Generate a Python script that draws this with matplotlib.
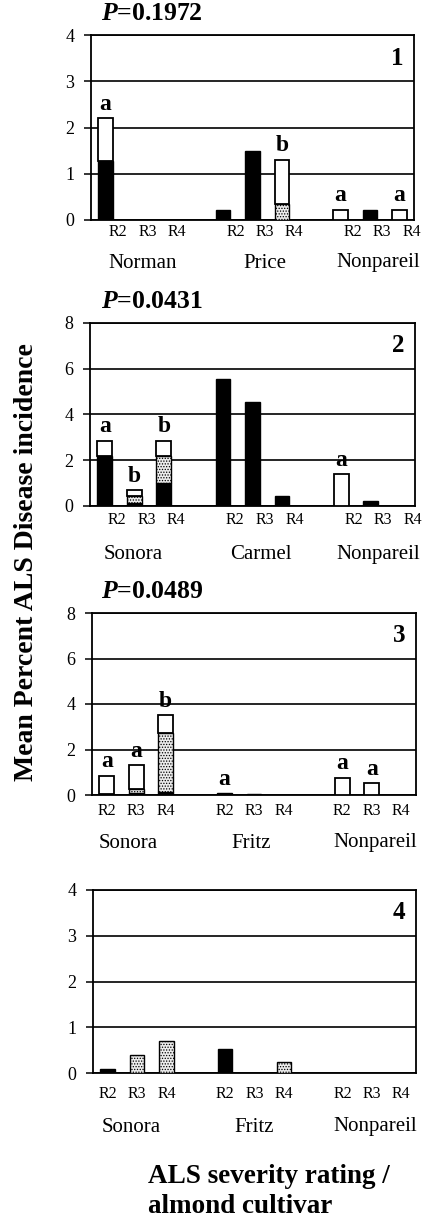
import matplotlib
matplotlib.use("Agg")
import matplotlib.pyplot as plt
import numpy as np

plt.rcParams['font.family'] = ['Liberation Serif', 'DejaVu Serif']
plt.rcParams['mathtext.fontset'] = 'custom'
plt.rcParams['mathtext.it'] = 'Liberation Serif:italic:bold'
plt.rcParams['mathtext.rm'] = 'Liberation Serif:bold'
plt.rcParams['hatch.linewidth'] = 0.6

ratings = ["R2", "R3", "R4"]

# Panel 1
cultivars1 = ["Norman", "Price", "Nonpareil"]
black1 = [1.27, 0, 0, 0.22, 1.50, 0, 0, 0.22, 0]
stip1 = [0, 0, 0, 0, 0, 0.35, 0, 0, 0]
white1 = [0.93, 0, 0, 0, 0, 0.95, 0.22, 0, 0.22]
letters1 = ["a", "", "", "", "", "b", "a", "", "a"]
p1 = "0.1972"

# Panel 2
cultivars2 = ["Sonora", "Carmel", "Nonpareil"]
black2 = [2.19, 0.15, 0.99, 5.56, 4.53, 0.45, 0, 0.20, 0]
stip2 = [0, 0.30, 1.21, 0, 0, 0, 0, 0, 0]
white2 = [0.67, 0.25, 0.66, 0, 0, 0, 1.40, 0, 0]
letters2 = ["a", "b", "b", "", "", "", "a", "", ""]
p2 = "0.0431"

# Panel 3
cultivars3 = ["Sonora", "Fritz", "Nonpareil"]
black3 = [0.04, 0.07, 0.15, 0.07, 0.05, 0, 0, 0, 0]
stip3 = [0, 0.18, 2.56, 0, 0, 0, 0, 0, 0]
white3 = [0.81, 1.05, 0.79, 0, 0, 0, 0.75, 0.51, 0]
letters3 = ["a", "a", "b", "a", "", "", "a", "a", ""]
p3 = "0.0489"

# Panel 4
cultivars4 = ["Sonora", "Fritz", "Nonpareil"]
black4 = [0.09, 0, 0, 0.53, 0, 0, 0, 0, 0]
stip4 = [0, 0.40, 0.69, 0, 0, 0.23, 0, 0, 0]
white4 = [0, 0, 0, 0, 0, 0, 0, 0, 0]
letters4 = ["", "", "", "", "", "", "", "", ""]
p4 = None

W, H = 426, 1220
fig = plt.figure(figsize=(W / 100, H / 100), dpi=100)

slots = np.array([0, 1, 2, 4, 5, 6, 8, 9, 10])

panels = [
    dict(box=(91, 414, 35, 220), ymax=4, step=1, cult=cultivars1, b=black1, s=stip1, w=white1,
         let=letters1, p=p1, num="1", lab_off=0.42, rpad=12, cpad=43,
         cx=[1.26, 5.43, 9.28]),
    dict(box=(90, 415, 323, 506), ymax=8, step=2, cult=cultivars2, b=black2, s=stip2, w=white2,
         let=letters2, p=p2, num="2", lab_off=0.42, rpad=14, cpad=49,
         cx=[0.95, 5.3, 9.25]),
    dict(box=(92, 416, 613, 795), ymax=8, step=2, cult=cultivars3, b=black3, s=stip3, w=white3,
         let=letters3, p=p3, num="3", lab_off=0.0, rpad=16, cpad=48,
         cx=[0.72, 4.9, 9.1]),
    dict(box=(93, 416, 890, 1073), ymax=4, step=1, cult=cultivars4, b=black4, s=stip4, w=white4,
         let=letters4, p=p4, num="4", lab_off=0.0, rpad=21, cpad=54,
         cx=[0.8, 5.0, 9.1]),
]

bw = 0.5
for P in panels:
    l, r, t, btm = P["box"]
    ax = fig.add_axes([l / W, 1 - btm / H, (r - l) / W, (btm - t) / H])
    b = np.array(P["b"]); s = np.array(P["s"]); w = np.array(P["w"])
    m = b > 0
    ax.bar(slots[m], b[m], width=bw, color="black", edgecolor="black", linewidth=1.0, zorder=3)
    m = s > 0
    ax.bar(slots[m], s[m], bottom=b[m], width=bw, facecolor="#ececec", edgecolor="black",
           hatch="......", linewidth=1.0, zorder=3)
    m = w > 0
    ax.bar(slots[m], w[m], bottom=(b + s)[m], width=bw, facecolor="white", edgecolor="black",
           linewidth=1.3, zorder=3)
    tot = b + s + w
    for x, v, lt in zip(slots, tot, P["let"]):
        if lt:
            ax.annotate(lt, (x, v), xytext=(0, 2.5), textcoords="offset points", ha="center",
                        va="bottom", fontsize=17, fontweight="bold", zorder=4)
    ax.set_xlim(-0.5, 10.5)
    ax.set_ylim(0, P["ymax"])
    ax.set_yticks(np.arange(0, P["ymax"] + 0.1, P["step"]))
    ax.set_yticklabels([str(int(v)) for v in np.arange(0, P["ymax"] + 0.1, P["step"])], fontsize=13)
    ax.tick_params(axis="y", direction="out", length=5, width=1.1, pad=7)
    ax.set_xticks([])
    ax.yaxis.grid(True, color="black", linewidth=1.2)
    ax.set_axisbelow(True)
    for sp in ax.spines.values():
        sp.set_linewidth(1.3)
    for i, x in enumerate(slots):
        ax.annotate(ratings[i % 3], (x + P["lab_off"], 0), xycoords=("data", "axes fraction"),
                    xytext=(0, -P["rpad"] * 0.72), textcoords="offset points", ha="center",
                    va="center", fontsize=11.5)
    for cx, c in zip(P["cx"], P["cult"]):
        ax.annotate(c, (cx, 0), xycoords=("data", "axes fraction"),
                    xytext=(0, -P["cpad"] * 0.72), textcoords="offset points", ha="center",
                    va="center", fontsize=15)
    ax.text(0.947, 0.875, P["num"], transform=ax.transAxes, ha="center", va="center",
            fontsize=18, fontweight="bold")
    if P["p"]:
        fig.text(101 / W, 1 - (t - 22) / H, r"$P$=" + P["p"], ha="left", va="center",
                 fontsize=18.5, fontweight="bold")

fig.text(27 / W, 1 - 562 / H, "Mean Percent ALS Disease incidence", rotation=90,
         ha="center", va="center", fontsize=20, fontweight="bold")
fig.text(148 / W, 1 - 1164 / H, "ALS severity rating /\nalmond cultivar", ha="left", va="top",
         fontsize=19.5, fontweight="bold", linespacing=1.25)

fig.savefig("out.png", dpi=100, facecolor="white")
